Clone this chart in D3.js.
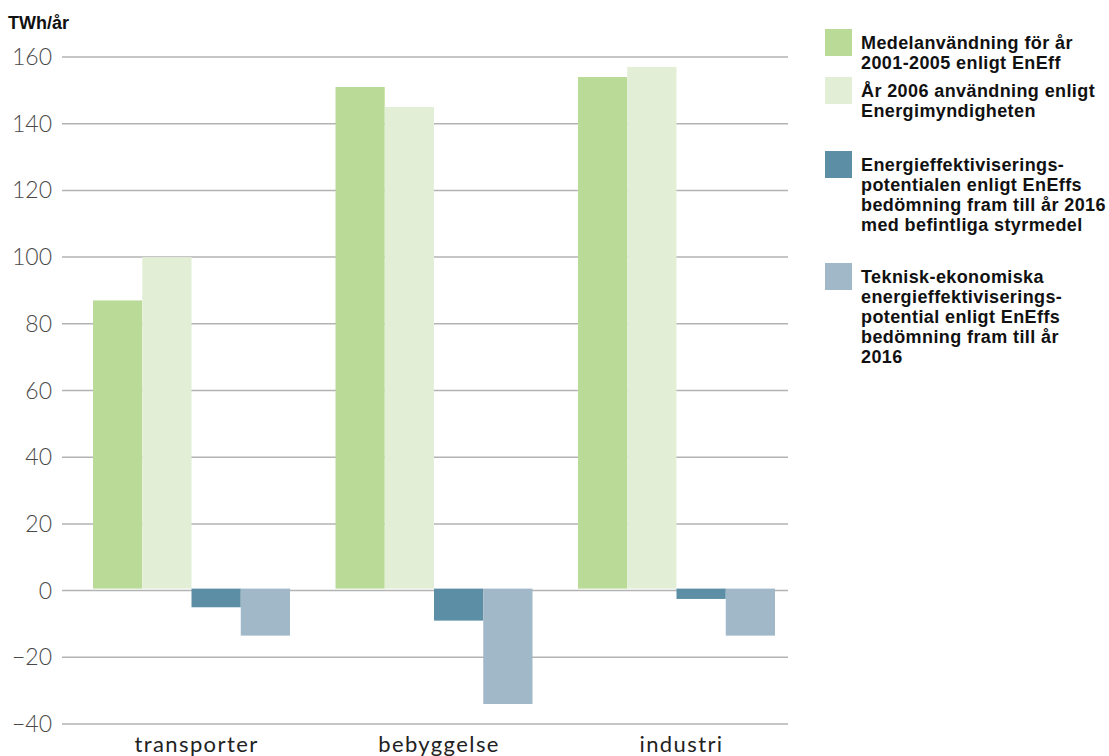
<!DOCTYPE html>
<html><head><meta charset="utf-8">
<script src="https://cdn.jsdelivr.net/npm/d3@7"></script>
<style>
body{margin:0;background:#fff;}
svg{display:block;}
</style></head>
<body>
<svg id="chart" width="1109" height="756"></svg>
<script>
const categories = ["transporter", "bebyggelse", "industri"];
const seriesNames = [
  ["Medelanvändning för år", "2001-2005 enligt EnEff"],
  ["År 2006 användning enligt", "Energimyndigheten"],
  ["Energieffektiviserings-", "potentialen enligt EnEffs", "bedömning fram till år 2016", "med befintliga styrmedel"],
  ["Teknisk-ekonomiska", "energieffektiviserings-", "potential enligt EnEffs", "bedömning fram till år", "2016"]
];
const medel2001_2005 = [87, 151, 154];
const anv2006 = [100, 145, 157];
const potentialStyrmedel = [-5, -9, -2.5];
const potentialTekEk = [-13.5, -34, -13.5];
const yTicks = [-40, -20, 0, 20, 40, 60, 80, 100, 120, 140, 160];
const colors = ["#badb97", "#e2efd6", "#5c8fa6", "#a1b8c8"];
const series = [medel2001_2005, anv2006, potentialStyrmedel, potentialTekEk];

const svg = d3.select("#chart");
const y = d3.scaleLinear().domain([-40, 160]).range([724, 57]);
const x0 = d3.scaleBand().domain(categories).range([93, 775]).paddingInner(0.1876).paddingOuter(0);
const x1 = d3.scaleBand().domain(d3.range(4)).range([0, x0.bandwidth()]);

// gridlines
svg.append("g").selectAll("line").data(yTicks).join("line")
  .attr("x1", 62).attr("x2", 788)
  .attr("y1", d => y(d)).attr("y2", d => y(d))
  .attr("stroke", "#b3b3b3").attr("stroke-width", 1.5);

// y tick labels
svg.append("g").selectAll("text").data(yTicks).join("text")
  .attr("x", 52).attr("y", d => y(d)).attr("dy", "0.35em")
  .attr("text-anchor", "end")
  .attr("font-family", "Lato, 'Open Sans', sans-serif")
  .attr("font-size", 23).attr("font-weight", 300).attr("fill", "#4a4a4a")
  .text(d => d < 0 ? "\u2212" + Math.abs(d) : d);

// bars
const gGroups = svg.append("g").selectAll("g").data(categories).join("g")
  .attr("transform", c => `translate(${x0(c)},0)`);
gGroups.selectAll("rect").data((c, i) => series.map((s, k) => ({k, v: s[i]}))).join("rect")
  .attr("x", d => x1(d.k))
  .attr("width", x1.bandwidth())
  .attr("y", d => d.v >= 0 ? y(d.v) : y(0) - 2)
  .attr("height", d => d.v >= 0 ? y(0) - 2 - y(d.v) : y(d.v) - y(0) + 2)
  .attr("fill", d => colors[d.k]);

// category labels
svg.append("g").selectAll("text").data(categories).join("text")
  .attr("x", c => x0(c) + x0.bandwidth() / 2 + 5)
  .attr("y", 752)
  .attr("text-anchor", "middle")
  .attr("font-family", "Lato, 'Open Sans', sans-serif")
  .attr("font-size", 22).attr("fill", "#222")
  .attr("letter-spacing", 1.4)
  .text(c => c);

// unit label
svg.append("text").attr("x", 8).attr("y", 29)
  .attr("font-family", "'Liberation Sans', Arial, sans-serif")
  .attr("font-weight", "bold").attr("font-size", 18).attr("fill", "#111")
  .text("TWh/år");

// legend
const legendTop = [29, 77, 151, 263];
const leg = svg.append("g").selectAll("g").data(seriesNames).join("g")
  .attr("transform", (d, i) => `translate(825,${legendTop[i]})`);
leg.append("rect").attr("width", 27).attr("height", 27).attr("fill", (d, i) => colors[i]);
leg.each(function(lines) {
  const t = d3.select(this).append("text")
    .attr("font-family", "'Liberation Sans', Arial, sans-serif")
    .attr("font-weight", "bold").attr("font-size", 18).attr("fill", "#111")
    .attr("letter-spacing", 0.4);
  t.selectAll("tspan").data(lines).join("tspan")
    .attr("x", 36).attr("y", (d, j) => 20 + j * 20).text(d => d);
});
</script>
</body></html>
